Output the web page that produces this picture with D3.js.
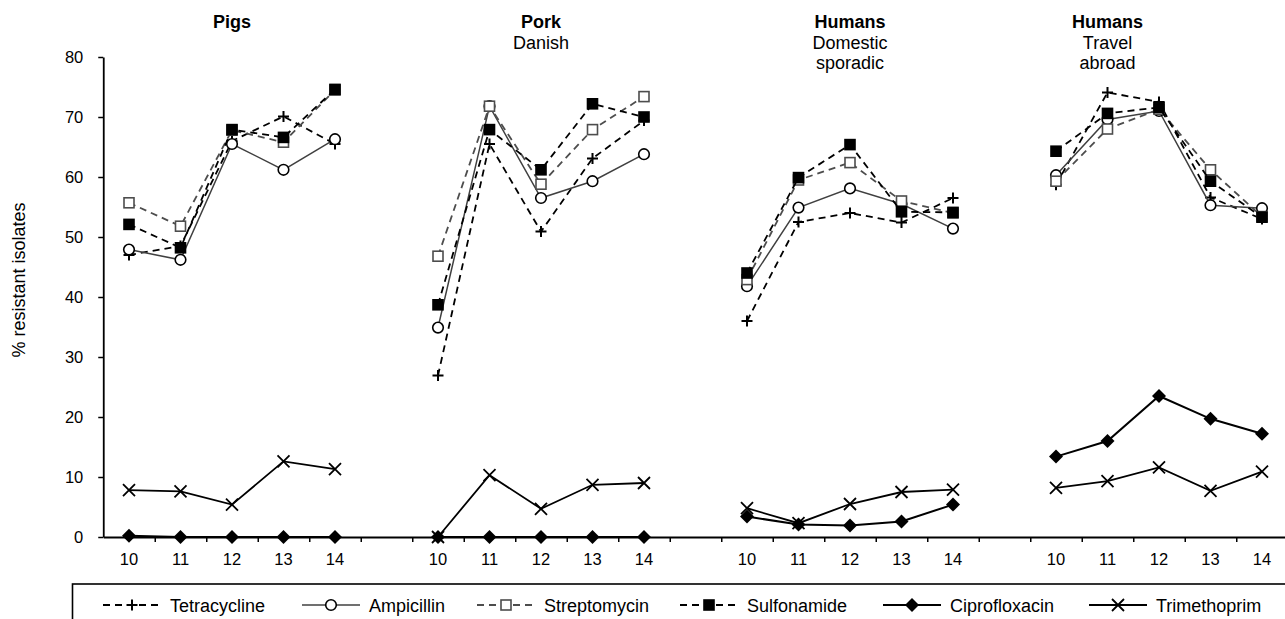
<!DOCTYPE html>
<html><head><meta charset="utf-8">
<script src="https://cdn.jsdelivr.net/npm/d3@7"></script>
<style>
body{margin:0;background:#fff}
svg{display:block;font-family:"Liberation Sans",Arial,sans-serif}
</style></head>
<body><svg width="1285" height="619"></svg>
<script>
// ---------- data ----------
const years = ["10", "11", "12", "13", "14"];
const groupTitles = ["Pigs", "Pork", "Humans", "Humans"];
const groupSubtitles = [[], ["Danish"], ["Domestic", "sporadic"], ["Travel", "abroad"]];
const seriesNames = ["Tetracycline", "Ampicillin", "Streptomycin", "Sulfonamide", "Ciprofloxacin", "Trimethoprim"];
// values per group (Pigs, Pork, Humans domestic, Humans travel), years 10..14
const tetracycline = [
  [47.0, 48.5, 66.0, 70.1, 65.5],
  [26.9, 65.5, 50.9, 63.1, 69.4],
  [36.0, 52.5, 54.0, 52.4, 56.5],
  [58.7, 74.1, 72.5, 56.6, 53.0]];
const ampicillin = [
  [47.9, 46.2, 65.5, 61.2, 66.3],
  [34.9, 71.8, 56.5, 59.3, 63.8],
  [41.8, 54.9, 58.1, 55.5, 51.4],
  [60.3, 69.6, 71.0, 55.3, 54.8]];
const streptomycin = [
  [55.7, 51.8, 67.8, 65.8, 74.5],
  [46.8, 71.8, 58.8, 67.9, 73.4],
  [42.9, 59.5, 62.4, 56.0, 54.0],
  [59.3, 68.0, 71.3, 61.2, 53.4]];
const sulfonamide = [
  [52.1, 48.2, 67.9, 66.6, 74.6],
  [38.7, 67.9, 61.2, 72.2, 70.0],
  [44.0, 59.9, 65.4, 54.2, 54.1],
  [64.3, 70.6, 71.6, 59.3, 53.3]];
const ciprofloxacin = [
  [0.2, 0, 0, 0, 0],
  [0, 0, 0, 0, 0],
  [3.4, 2.1, 1.9, 2.6, 5.4],
  [13.4, 16.0, 23.5, 19.7, 17.2]];
const trimethoprim = [
  [7.8, 7.6, 5.4, 12.6, 11.3],
  [0, 10.3, 4.7, 8.7, 9.0],
  [4.8, 2.3, 5.5, 7.5, 7.9],
  [8.2, 9.3, 11.6, 7.7, 10.9]];
const yTicks = [0, 10, 20, 30, 40, 50, 60, 70, 80];
const yTitle = "% resistant isolates";

// ---------- layout / styles ----------
const seriesValues = [tetracycline, ampicillin, streptomycin, sulfonamide, ciprofloxacin, trimethoprim];
const styles = [
  {stroke: "#000", dash: "7,5", width: 1.8, marker: "plus"},
  {stroke: "#404040", dash: null, width: 1.5, marker: "circle"},
  {stroke: "#4d4d4d", dash: "7,5", width: 1.8, marker: "osquare"},
  {stroke: "#000", dash: "7,5", width: 1.8, marker: "fsquare"},
  {stroke: "#000", dash: null, width: 2, marker: "diamond"},
  {stroke: "#000", dash: null, width: 1.8, marker: "cross"}
];
const FONT = "Liberation Sans, Arial, sans-serif";
const groupStride = 6;           // 5 years + 1 gap category
const nCat = groupStride * 3 + years.length;   // 23
const catW = 51.5, x0 = 103.25;
const titleCat = [2, 2, 2, 1];
const legendX = [103, 302, 477, 680, 883, 1089];

const svg = d3.select("svg");
const x = d3.scaleBand().domain(d3.range(nCat)).range([x0, x0 + nCat * catW]).padding(0);
const xb = d3.scaleLinear().domain([0, nCat]).range([x0, x0 + nCat * catW]);
const y = d3.scaleLinear().domain([0, 80]).range([537, 57]);
const cx = (g, i) => x(g * groupStride + i) + x.bandwidth() / 2;

// y axis
const ya = svg.append("g").attr("transform", `translate(${x0},0)`)
  .call(d3.axisLeft(y).tickValues(yTicks).tickSize(5).tickSizeOuter(0).tickPadding(15));
ya.selectAll("text").attr("font-size", 16.5).attr("fill", "#000").attr("font-family", FONT);
ya.selectAll("line").attr("stroke", "#000").attr("stroke-width", 1.5);
ya.select(".domain").attr("stroke", "#000").attr("stroke-width", 1.8);

// x axis tick marks (between categories)
const xa = svg.append("g").attr("transform", `translate(0,${y(0)})`)
  .call(d3.axisBottom(xb).tickValues(d3.range(1, nCat + 1)).tickSize(5).tickSizeOuter(0).tickFormat(""));
xa.selectAll("line").attr("stroke", "#000").attr("stroke-width", 1.5);
xa.select(".domain").attr("stroke", "#000").attr("stroke-width", 1.8);
// x axis labels
const xl = svg.append("g").attr("transform", `translate(0,${y(0)})`)
  .call(d3.axisBottom(x).tickSize(0).tickPadding(16.5)
    .tickFormat(i => (i % groupStride) < years.length ? years[i % groupStride] : ""));
xl.select(".domain").remove();
xl.selectAll("text").attr("font-size", 16.5).attr("fill", "#000").attr("font-family", FONT);

// y title
svg.append("text").attr("transform", `translate(25,${(y(0) + y(80)) / 2 - 17}) rotate(-90)`)
  .attr("text-anchor", "middle").attr("font-size", 18).text(yTitle);

// group titles
groupTitles.forEach((t, g) => {
  const tx = cx(g, titleCat[g]);
  svg.append("text").attr("x", tx).attr("y", 27.5).attr("text-anchor", "middle")
    .attr("font-size", 18).attr("font-weight", "bold").text(t);
  groupSubtitles[g].forEach((s, k) => {
    svg.append("text").attr("x", tx).attr("y", 48.5 + k * 20.7).attr("text-anchor", "middle")
      .attr("font-size", 18).text(s);
  });
});

// markers
function drawMarker(sel, type, px, py) {
  const g = sel.append("g").attr("transform", `translate(${px},${py})`);
  if (type === "plus") {
    g.append("path").attr("d", "M-5.5,0H5.5M0,-5.5V5.5").attr("stroke", "#000").attr("stroke-width", 2).attr("fill", "none");
  } else if (type === "circle") {
    g.append("circle").attr("r", 5.3).attr("fill", "#fff").attr("stroke", "#000").attr("stroke-width", 1.6);
  } else if (type === "osquare") {
    g.append("rect").attr("x", -5).attr("y", -5).attr("width", 10).attr("height", 10)
      .attr("fill", "#fff").attr("stroke", "#4d4d4d").attr("stroke-width", 1.6);
  } else if (type === "fsquare") {
    g.append("rect").attr("x", -5.8).attr("y", -5.8).attr("width", 11.6).attr("height", 11.6).attr("fill", "#000");
  } else if (type === "diamond") {
    g.append("path").attr("d", "M0,-7L7,0L0,7L-7,0Z").attr("fill", "#000");
  } else if (type === "cross") {
    g.append("path").attr("d", "M-6,-6L6,6M-6,6L6,-6").attr("stroke", "#000").attr("stroke-width", 1.8).attr("fill", "none");
  }
}

// series
const plot = svg.append("g");
seriesValues.forEach((vals, s) => {
  const st = styles[s];
  const sg = plot.append("g");
  vals.forEach((arr, g) => {
    const line = d3.line().x((d, i) => cx(g, i)).y(d => y(d));
    sg.append("path").attr("d", line(arr)).attr("fill", "none")
      .attr("stroke", st.stroke).attr("stroke-width", st.width)
      .attr("stroke-dasharray", st.dash);
  });
  vals.forEach((arr, g) => arr.forEach((v, i) => drawMarker(sg, st.marker, cx(g, i), y(v))));
});

// legend
svg.append("rect").attr("x", 72.5).attr("y", 584).attr("width", 1300).attr("height", 100)
  .attr("fill", "none").attr("stroke", "#000").attr("stroke-width", 1.6);
seriesNames.forEach((n, s) => {
  const st = styles[s];
  const lx = legendX[s], ly = 605;
  const lg = svg.append("g");
  lg.append("line").attr("x1", lx).attr("x2", lx + 58).attr("y1", ly).attr("y2", ly)
    .attr("stroke", st.stroke).attr("stroke-width", st.width).attr("stroke-dasharray", st.dash);
  drawMarker(lg, st.marker, lx + 29, ly);
  lg.append("text").attr("x", lx + 67).attr("y", ly + 6.5).attr("font-size", 18).text(n);
});
</script></body></html>
